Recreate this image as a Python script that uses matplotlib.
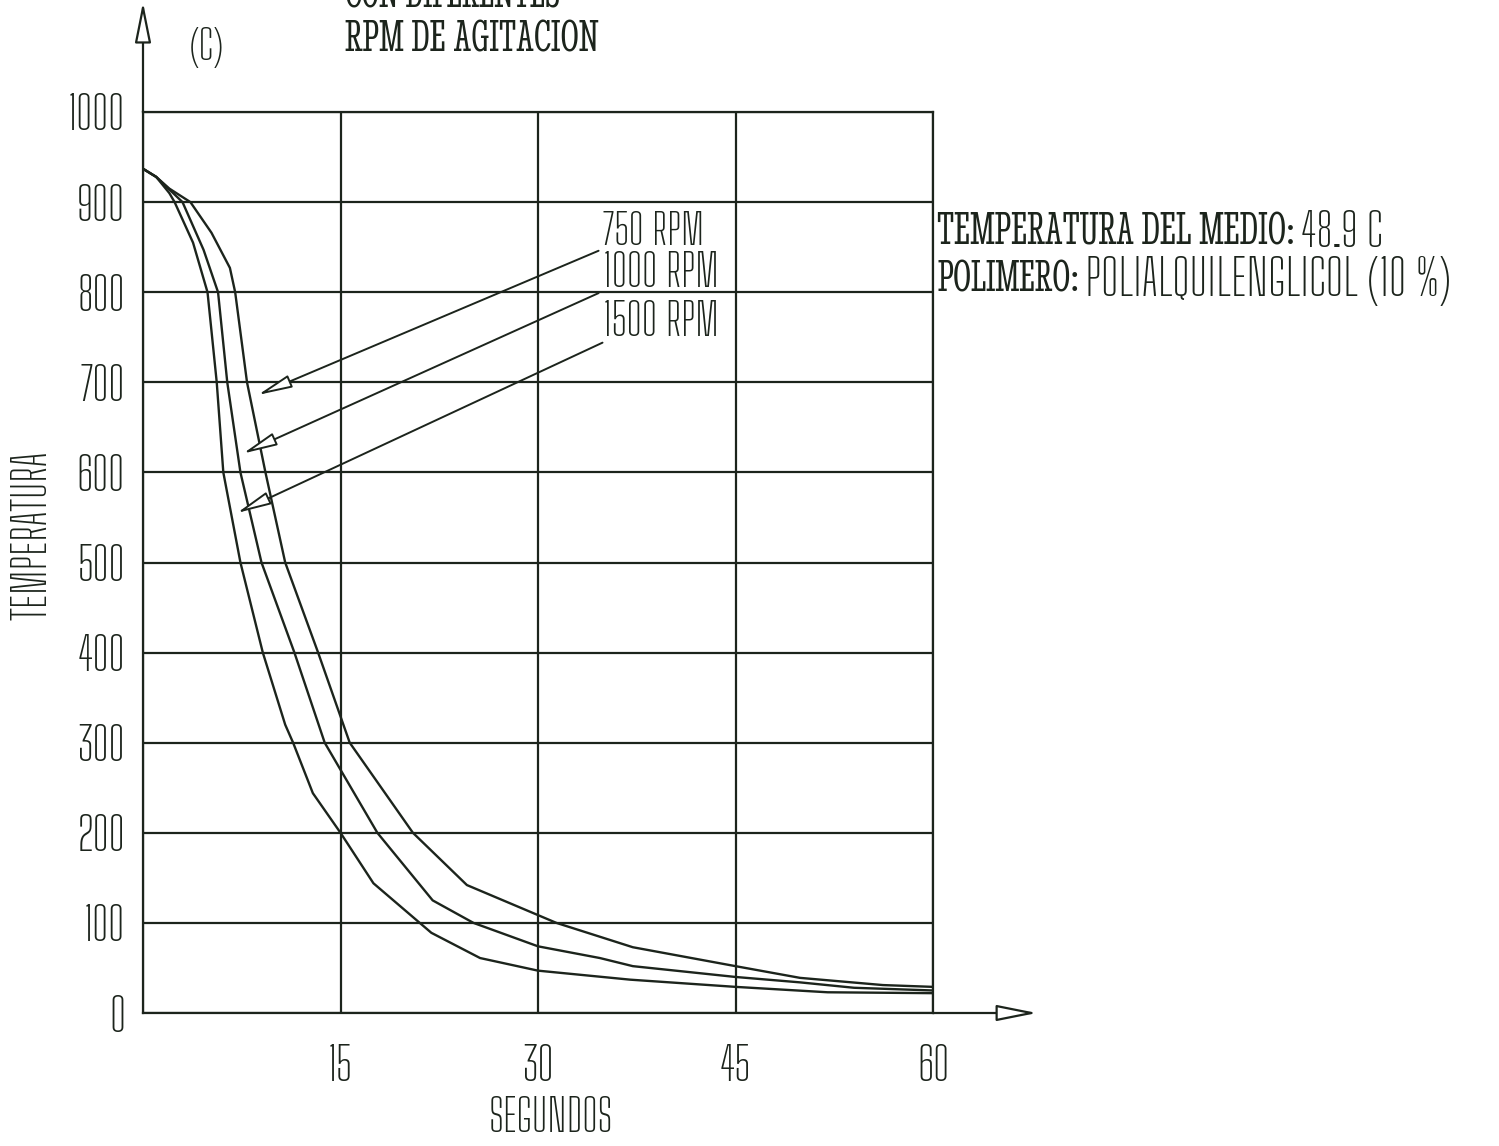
import matplotlib
matplotlib.use('Agg')
import matplotlib.pyplot as plt
import logging
logging.getLogger('matplotlib.font_manager').setLevel(logging.ERROR)

# curvas de enfriamiento (segundos, temperatura C)
t_750 = [0, 1, 2, 3.6, 5.2, 6.6, 7.0, 7.9, 9.3, 10.8, 13.3, 15.7, 20.5, 24.6, 31.4, 37.2, 45, 49.9, 56.2, 60]
T_750 = [937, 928, 915, 900, 866, 827, 800, 700, 600, 500, 400, 300, 200, 142, 100, 73, 52, 39, 31, 29]

t_1000 = [0, 1, 2, 3.0, 4.6, 5.7, 6.4, 7.4, 9.0, 11.5, 13.8, 17.8, 22.0, 25.1, 30, 34.7, 37.2, 45, 49.9, 54, 60]
T_1000 = [937, 928, 914, 900, 847, 800, 700, 600, 500, 400, 300, 200, 125, 100, 74, 61, 52, 40, 34, 28, 25]

t_1500 = [0, 1, 2, 2.4, 3.8, 4.9, 5.6, 6.1, 7.4, 9.1, 10.8, 11.4, 12.9, 15.0, 17.5, 21.9, 25.6, 30, 37, 45, 52, 60]
T_1500 = [937, 928, 910, 900, 855, 800, 700, 600, 500, 400, 320, 300, 244, 200, 144, 89, 61, 47, 37, 29, 23, 22]

etiquetas = ['750 RPM', '1000 RPM', '1500 RPM']
xticks = [0, 15, 30, 45, 60]
xticklabels = ['', '15', '30', '45', '60']
yticks = list(range(0, 1001, 100))

tinta = '#1c241c'
fino = ['Big Shoulders Text', 'Barlow Condensed', 'DejaVu Sans']
grueso = ['Stint Ultra Condensed', 'Oswald', 'DejaVu Serif']

fig = plt.figure(figsize=(14.99, 11.46), dpi=100)
W, H = 1499, 1146
ax = fig.add_axes([143 / W, 1 - 1013 / H, 790 / W, 901 / H])

for t, T in [(t_750, T_750), (t_1000, T_1000), (t_1500, T_1500)]:
    ax.plot(t, T, color=tinta, lw=1.7)

ax.set_xlim(0, 60)
ax.set_ylim(0, 1000)
ax.set_xticks(xticks)
ax.set_xticklabels(xticklabels)
ax.set_yticks(yticks)
ax.grid(True, color=tinta, lw=1.6)
ax.set_axisbelow(True)
for s in ax.spines.values():
    s.set_color(tinta)
    s.set_linewidth(1.6)
ax.tick_params(length=0, colors=tinta, labelsize=33)
ax.tick_params(axis='y', pad=13)
ax.tick_params(axis='x', pad=22)
for lb in ax.get_xticklabels() + ax.get_yticklabels():
    lb.set_fontfamily(fino)

# ejes con flecha
flecha_eje = dict(arrowstyle='-|>,head_length=1.25,head_width=0.25', mutation_scale=20,
                  fc='white', ec=tinta, lw=1.6, shrinkA=0, shrinkB=0)
ax.annotate('', xy=(67.9, 0), xytext=(60, 0), arrowprops=flecha_eje, annotation_clip=False)
ax.annotate('', xy=(0, 1122), xytext=(0, 1000), arrowprops=flecha_eje, annotation_clip=False)

# flechas de las etiquetas
flecha = dict(arrowstyle='-|>,head_length=1.05,head_width=0.2', mutation_scale=20,
              fc='white', ec=tinta, lw=1.4, shrinkA=0, shrinkB=0)
puntas = [(8.73, 686), (7.60, 621), (7.14, 555)]
colas = [(34.6, 846), (34.6, 799), (34.9, 744)]
for p, c in zip(puntas, colas):
    ax.annotate('', xy=p, xytext=c, arrowprops=flecha)

renderer = fig.canvas.get_renderer()


def texto(x, y, s, ancho, fam, peso='normal', ha='left', va='center', rot=0, tam=None):
    tx = fig.text(x / W, 1 - y / H, s, ha=ha, va=va, rotation=rot, fontfamily=fam,
                  fontweight=peso, color=tinta, fontsize=tam or 20)
    if tam is None:
        bb = tx.get_window_extent(renderer)
        med = bb.height if rot else bb.width
        tx.set_fontsize(20 * ancho / med)
    return tx


for s, y in zip(etiquetas, [232, 273, 323]):
    texto(603, y, s, 0.93 * (125 if s != '750 RPM' else 109), fino)

texto(345, 8, 'CON DIFERENTES', 215, grueso, 'bold', va='baseline')
texto(345, 40, 'RPM DE AGITACION', 253, grueso, 'bold')
texto(207, 47, '(C)', 0, fino, ha='center', tam=30)
texto(33, 535, 'TEMPERATURA', 170, fino, ha='center', rot=90)
texto(551, 1118, 'SEGUNDOS', 125, fino, ha='center')

b1 = texto(937, 233, 'TEMPERATURA DEL MEDIO:', 358, grueso, 'bold')
x1 = b1.get_window_extent(renderer).x1
texto(x1 + 6, 233, '48.9 C', 82, fino)
b2 = texto(937, 281, 'POLIMERO:', 143, grueso, 'bold')
x2 = b2.get_window_extent(renderer).x1
texto(x2 + 6, 281, 'POLIALQUILENGLICOL (10 %)', 0.93 * 393, fino)

fig.savefig('out.png', dpi=100, facecolor='white')
